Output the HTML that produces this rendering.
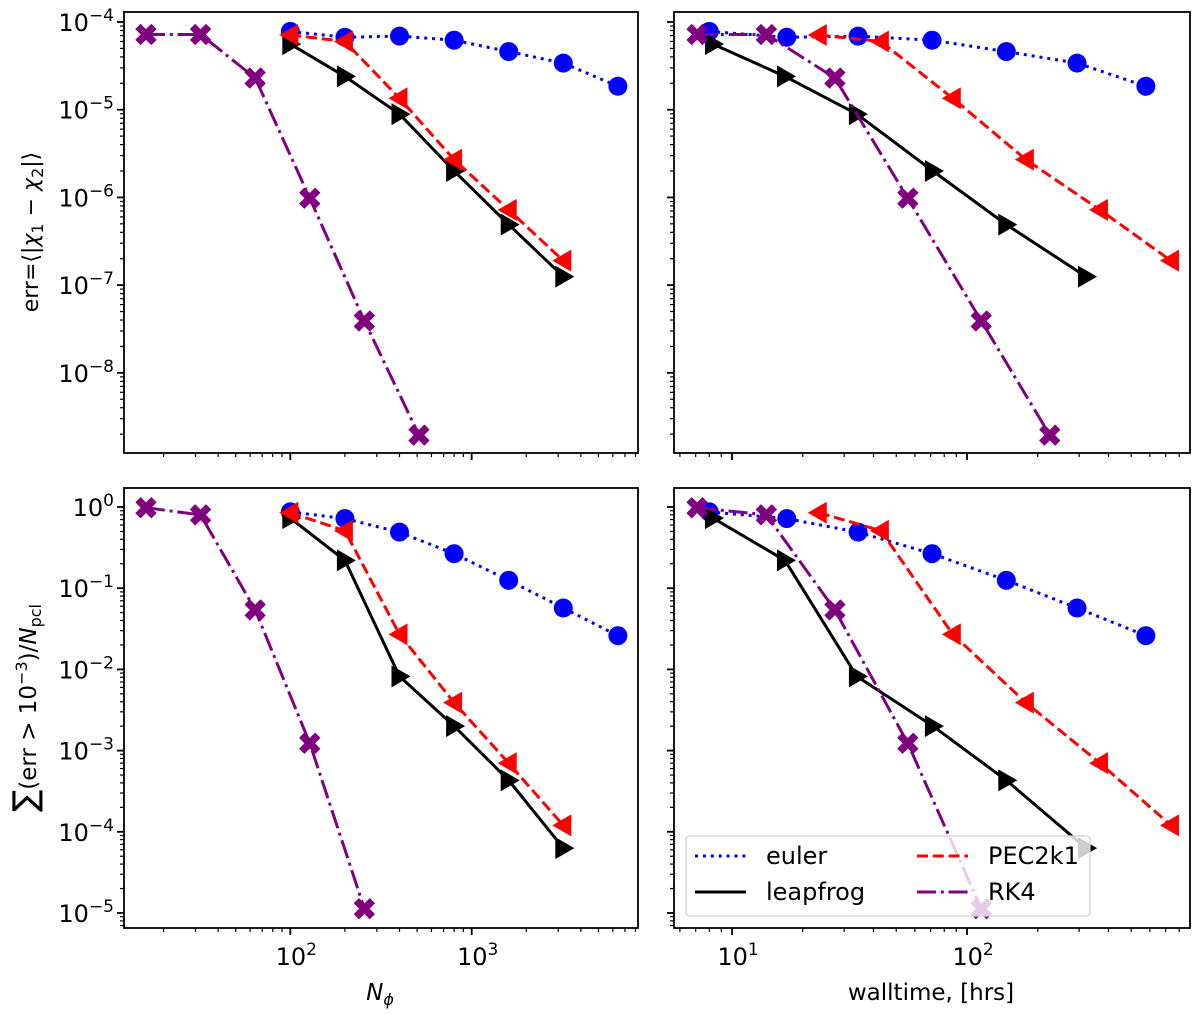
<!DOCTYPE html>
<html><head><meta charset="utf-8">
<style>
html,body{margin:0;padding:0;background:#fff;}
svg text{font-family:"DejaVu Sans","Liberation Sans",sans-serif;fill:#000;}
</style></head>
<body>
<svg id="fig" width="1200" height="1009" viewBox="0 0 1200 1009" xmlns="http://www.w3.org/2000/svg"></svg>
<script>
// ---- data ----
const nEuler = [100,200,400,800,1600,3200,6400];
const nLeap = [100,200,400,800,1600,3200];
const nPec = [100,200,400,800,1600,3200];
const nRk4 = [16,32,64,128,256,512];
const nRk4Frac = [16,32,64,128,256];

const tEuler = [8.0,17.1,34.4,71,147,294,577];
const tLeap = [8.3,16.8,34,71.6,147,321];
const tPec = [23.4,43,87,178,368,738];
const tRk4 = [7.1,14.0,27.4,56,115,225];
const tRk4Frac = [7.1,14.0,27.4,56,115];

const errEuler = [7.8e-5,6.7e-5,6.9e-5,6.2e-5,4.6e-5,3.4e-5,1.85e-5];
const errLeap = [5.6e-5,2.4e-5,8.9e-6,2.0e-6,4.9e-7,1.25e-7];
const errPec = [7.1e-5,6.0e-5,1.35e-5,2.7e-6,7.2e-7,1.9e-7];
const errRk4 = [7.2e-5,7.2e-5,2.3e-5,9.8e-7,3.9e-8,1.95e-9];

const fracEuler = [0.87,0.72,0.49,0.266,0.125,0.057,0.026];
const fracLeap = [0.73,0.22,0.0082,0.0020,4.3e-4,6.3e-5];
const fracPec = [0.85,0.51,0.027,0.0039,7e-4,1.2e-4];
const fracRk4 = [0.98,0.80,0.054,0.00123,1.13e-5];

const NS='http://www.w3.org/2000/svg';
const svg=document.getElementById('fig');
function el(tag,attrs,parent){const e=document.createElementNS(NS,tag);for(const k in attrs)e.setAttribute(k,attrs[k]);(parent||svg).appendChild(e);return e;}

const panels=[
 {name:'top-left',x0:124,x1:638,y0:12,y1:453,xl:[1.083,3.917],yl:[-3.886,-8.914],xlab:false,ylab:true,
  series:[['euler',nEuler,errEuler],['leapfrog',nLeap,errLeap],['pec2k1',nPec,errPec],['rk4',nRk4,errRk4]]},
 {name:'top-right',x0:674,x1:1190,y0:12,y1:453,xl:[0.753,2.949],yl:[-3.886,-8.914],xlab:false,ylab:false,
  series:[['euler',tEuler,errEuler],['leapfrog',tLeap,errLeap],['pec2k1',tPec,errPec],['rk4',tRk4,errRk4]]},
 {name:'bottom-left',x0:124,x1:638,y0:488,y1:928,xl:[1.083,3.917],yl:[0.234,-5.185],xlab:true,ylab:true,
  series:[['euler',nEuler,fracEuler],['leapfrog',nLeap,fracLeap],['pec2k1',nPec,fracPec],['rk4',nRk4Frac,fracRk4]]},
 {name:'bottom-right',x0:674,x1:1190,y0:488,y1:928,xl:[0.753,2.949],yl:[0.234,-5.185],xlab:true,ylab:false,
  series:[['euler',tEuler,fracEuler],['leapfrog',tLeap,fracLeap],['pec2k1',tPec,fracPec],['rk4',tRk4Frac,fracRk4]]}
];
const styles={
 euler:{c:'#0000ff',dash:'3,4.9',m:'o'},
 leapfrog:{c:'#000000',dash:'',m:'>'},
 pec2k1:{c:'#ff0000',dash:'11,4.8',m:'<'},
 rk4:{c:'#800080',dash:'19,4.8,3,4.8',m:'X'}
};
function marker(g,m,x,y,c){
  if(m==='o'){return el('circle',{cx:x,cy:y,r:9.5,fill:c},g);}
  if(m==='>'){return el('polygon',{points:`${x+11},${y} ${x-8},${y-11} ${x-8},${y+11}`,fill:c},g);}
  if(m==='<'){return el('polygon',{points:`${x-11},${y} ${x+8},${y-11} ${x+8},${y+11}`,fill:c},g);}
  if(m==='X'){const s=10,w=4.6;const p=[[-s+w,-s],[0,-w],[s-w,-s],[s,-s+w],[w,0],[s,s-w],[s-w,s],[0,w],[-s+w,s],[-s,s-w],[-w,0],[-s,-s+w]];
    return el('polygon',{points:p.map(q=>`${x+q[0]},${y+q[1]}`).join(' '),fill:c,stroke:c,'stroke-width':1,'stroke-linejoin':'round'},g);}
}
function sup(parent,x,y,base,exp,anchor){
  const t=el('text',{x:x,y:y,'font-size':24,'text-anchor':anchor||'end'},parent);
  t.textContent=base;
  const ts=el('tspan',{dy:-10,'font-size':17},t);ts.textContent=exp;
  return t;
}
panels.forEach(p=>{
  const g=el('g',{});
  
  
  const X=v=>p.x0+(Math.log10(v)-p.xl[0])/(p.xl[1]-p.xl[0])*(p.x1-p.x0);
  const Y=v=>p.y0+(Math.log10(v)-p.yl[0])/(p.yl[1]-p.yl[0])*(p.y1-p.y0);
  const clipId='clip-'+p.name;
  const cp=el('clipPath',{id:clipId},g);el('rect',{x:p.x0,y:p.y0,width:p.x1-p.x0,height:p.y1-p.y0},cp);
  const dg=el('g',{'clip-path':`url(#${clipId})`},g);
  p.series.forEach(s=>{
    const st=styles[s[0]];
    const sg=el('g',{},dg);
    
    
    const pts=s[1].map((v,i)=>`${X(v).toFixed(1)},${Y(s[2][i]).toFixed(1)}`).join(' ');
    const pl=el('polyline',{points:pts,fill:'none',stroke:st.c,'stroke-width':3,'stroke-dasharray':st.dash},sg);
    
    
    s[1].forEach((v,i)=>{const mk=marker(sg,st.m,X(v),Y(s[2][i]),st.c);
      
      });
  });
  const fr=el('rect',{x:p.x0,y:p.y0,width:p.x1-p.x0,height:p.y1-p.y0,fill:'none',stroke:'#000','stroke-width':1.8},g);
  
  
  const xa=el('g',{},g);
  
  
  for(let d=Math.floor(p.xl[0]);d<=Math.ceil(p.xl[1]);d++){
    for(let k=1;k<10;k++){const lv=d+Math.log10(k);if(lv<p.xl[0]||lv>p.xl[1])continue;
      const x=p.x0+(lv-p.xl[0])/(p.xl[1]-p.xl[0])*(p.x1-p.x0);
      el('line',{x1:x,x2:x,y1:p.y1,y2:p.y1+(k===1?7:4),stroke:'#000','stroke-width':k===1?1.8:1.2},xa);
      if(k===1&&p.xlab){sup(xa,x+6,p.y1+37,'10',String(d),'middle');}
    }
  }
  const ya=el('g',{},g);
  
  
  for(let d=Math.floor(p.yl[1]);d<=Math.ceil(p.yl[0]);d++){
    for(let k=1;k<10;k++){const lv=d+Math.log10(k);if(lv>p.yl[0]||lv<p.yl[1])continue;
      const y=p.y0+(lv-p.yl[0])/(p.yl[1]-p.yl[0])*(p.y1-p.y0);
      el('line',{x1:p.x0,x2:p.x0-(k===1?7:4),y1:y,y2:y,stroke:'#000','stroke-width':k===1?1.8:1.2},ya);
      if(k===1&&p.ylab){sup(ya,p.x0-10,y+9,'10',d===0?'0':'\u2212'+Math.abs(d),'end');}
    }
  }
});
let t=el('text',{x:0,y:0,'font-size':22,'text-anchor':'middle',transform:'translate(38,232) rotate(-90)'});

t.innerHTML='err=⟨|<tspan font-style="italic">χ</tspan><tspan font-size="16" dy="5">1</tspan><tspan dy="-5"> − </tspan><tspan font-style="italic">χ</tspan><tspan font-size="16" dy="5">2</tspan><tspan dy="-5">|⟩</tspan>';
t=el('text',{x:0,y:0,'font-size':23,'text-anchor':'middle',transform:'translate(36,708) rotate(-90)'});

t.innerHTML='<tspan font-size="33">∑</tspan>(err &gt; 10<tspan font-size="16" dy="-9">−3</tspan><tspan dy="9">)/</tspan><tspan font-style="italic">N</tspan><tspan font-size="16" dy="5">pcl</tspan>';
t=el('text',{x:380,y:1000,'font-size':23,'text-anchor':'middle'});

t.innerHTML='<tspan font-style="italic">N</tspan><tspan font-size="16" dy="5" font-style="italic">ϕ</tspan>';
t=el('text',{x:931,y:1000,'font-size':23,'text-anchor':'middle'});

t.textContent='walltime, [hrs]';
const lg=el('g',{});

el('rect',{x:686,y:836,width:404,height:80,rx:4,fill:'#fff','fill-opacity':0.8,stroke:'#d0d0d0','stroke-width':1.3},lg);
const entries=[['euler',695,864],['leapfrog',695,900],['PEC2k1',917,864],['RK4',917,900]];
const ekeys=['euler','leapfrog','pec2k1','rk4'];
entries.forEach((e,i)=>{const st=styles[ekeys[i]];
  const eg=el('g',{},lg);
  
  el('line',{x1:e[1],x2:e[1]+51,y1:e[2]-8,y2:e[2]-8,stroke:st.c,'stroke-width':3,'stroke-dasharray':st.dash},eg);
  const tx=el('text',{x:e[1]+71,y:e[2],'font-size':24},eg);tx.textContent=e[0];
});
</script>
</body></html>
